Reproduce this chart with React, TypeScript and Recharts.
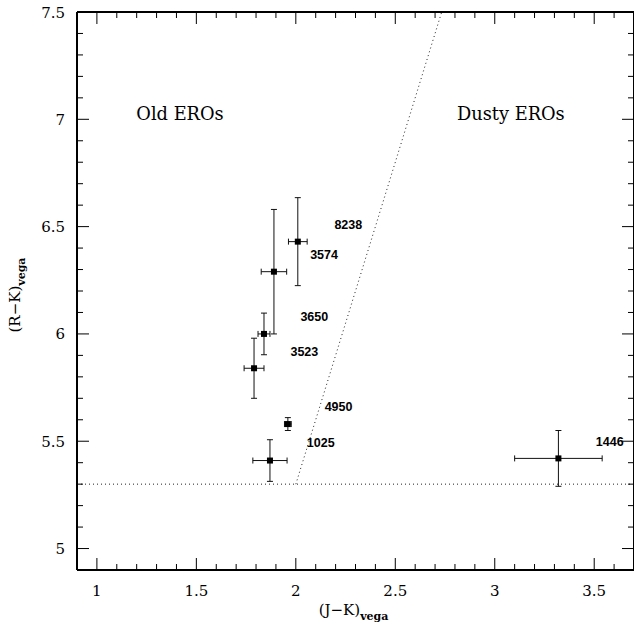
import React from 'react';
import { ScatterChart, Scatter, XAxis, YAxis, ErrorBar, ReferenceLine } from 'recharts';

// EROs: (J-K)_vega vs (R-K)_vega
const jkValues = [2.01, 1.89, 1.84, 1.79, 1.96, 1.87, 3.32];
const rkValues = [6.43, 6.29, 6.0, 5.84, 5.58, 5.41, 5.42];
const jkErrors = [0.047, 0.064, 0.03, 0.05, 0.017, 0.086, 0.22];
const rkErrors = [0.205, 0.29, 0.097, 0.14, 0.03, 0.097, 0.13];

// object id labels
const idNames = ['8238', '3574', '3650', '3523', '4950', '1025', '1446'];
const idJK = [2.264, 2.142, 2.093, 2.043, 2.215, 2.125, 3.578];
const idRK = [6.512, 6.368, 6.08, 5.92, 5.661, 5.493, 5.501];

// region labels
const regionNames = ['Old EROs', 'Dusty EROs'];
const regionJK = [1.418, 3.081];
const regionRK = [7.027, 7.027];

// separation lines
const rkCut = 5.3;
const diagJK = [2.0, 2.7333];
const diagRK = [5.3, 7.5];

const xDomain = [0.9, 3.7];
const yDomain = [4.9, 7.5];
const xTicks = [1.0, 1.1, 1.2, 1.3, 1.4, 1.5, 1.6, 1.7, 1.8, 1.9, 2.0, 2.1, 2.2, 2.3, 2.4, 2.5, 2.6, 2.7, 2.8, 2.9, 3.0, 3.1, 3.2, 3.3, 3.4, 3.5, 3.6];
const yTicks = [5.0, 5.1, 5.2, 5.3, 5.4, 5.5, 5.6, 5.7, 5.8, 5.9, 6.0, 6.1, 6.2, 6.3, 6.4, 6.5, 6.6, 6.7, 6.8, 6.9, 7.0, 7.1, 7.2, 7.3, 7.4, 7.5];

const points = jkValues.map((x, i) => ({ x, y: rkValues[i], ex: jkErrors[i], ey: rkErrors[i] }));
const idLabels = idNames.map((name, i) => ({ x: idJK[i], y: idRK[i], name }));
const regionLabels = regionNames.map((name, i) => ({ x: regionJK[i], y: regionRK[i], name }));

const SERIF = 'DejaVu Serif';
const MAJOR = 12;
const MINOR = 6;
const isMajor = (v: number) => Math.abs(v * 2 - Math.round(v * 2)) < 1e-6;
const fmt = (v: number) => String(Math.round(v * 10) / 10);

const BottomTick = (p: any) => {
  const v = p.payload.value;
  const m = isMajor(v);
  return (
    <g>
      <line x1={p.x} y1={p.y} x2={p.x} y2={p.y - (m ? MAJOR : MINOR)} stroke="#000" strokeWidth={1} />
      {m && (
        <text x={p.x} y={p.y + 26} textAnchor="middle" fontFamily={SERIF} fontSize={15} fill="#000">
          {fmt(v)}
        </text>
      )}
    </g>
  );
};

const TopTick = (p: any) => {
  const v = p.payload.value;
  const m = isMajor(v);
  return <line x1={p.x} y1={p.y} x2={p.x} y2={p.y + (m ? MAJOR : MINOR)} stroke="#000" strokeWidth={1} />;
};

const LeftTick = (p: any) => {
  const v = p.payload.value;
  const m = isMajor(v);
  return (
    <g>
      <line x1={p.x} y1={p.y} x2={p.x + (m ? MAJOR : MINOR)} y2={p.y} stroke="#000" strokeWidth={1} />
      {m && (
        <text x={p.x - 12} y={p.y + 5.5} textAnchor="end" fontFamily={SERIF} fontSize={15} fill="#000">
          {fmt(v)}
        </text>
      )}
    </g>
  );
};

const RightTick = (p: any) => {
  const v = p.payload.value;
  const m = isMajor(v);
  return <line x1={p.x} y1={p.y} x2={p.x - (m ? MAJOR : MINOR)} y2={p.y} stroke="#000" strokeWidth={1} />;
};

const XTitle = (props: any) => {
  const vb = props.viewBox;
  return (
    <text x={vb.x + vb.width / 2 - 2} y={vb.y + 45} textAnchor="middle" fontFamily={SERIF} fontSize={15} fill="#000">
      (J−K)
      <tspan fontSize={11} fontWeight="bold" dy={5}>vega</tspan>
    </text>
  );
};

const YTitle = (props: any) => {
  const vb = props.viewBox;
  const cx = 20;
  const cy = vb.y + vb.height / 2 + 4;
  return (
    <text x={cx} y={cy} transform={`rotate(-90 ${cx} ${cy})`} textAnchor="middle" fontFamily={SERIF} fontSize={15} fill="#000">
      (R−K)
      <tspan fontSize={11} fontWeight="bold" dy={5}>vega</tspan>
    </text>
  );
};

const Marker = (p: any) => <rect x={p.cx - 3} y={p.cy - 3} width={6} height={6} fill="#000" />;

const IdText = (p: any) => (
  <text x={p.cx} y={p.cy + 4.5} textAnchor="middle" fontFamily="Liberation Sans" fontWeight="bold" fontSize={12.5} fill="#000">
    {p.payload.name}
  </text>
);

const RegionText = (p: any) => (
  <text x={p.cx} y={p.cy + 6} textAnchor="middle" fontFamily={SERIF} fontSize={17.8} fill="#000">
    {p.payload.name}
  </text>
);

export default function App() {
  return (
    <div style={{ position: 'absolute', left: 0, top: 0, width: 634, height: 625, overflow: 'hidden', background: '#fff' }}>
      <ScatterChart width={640} height={625} margin={{ top: 0, right: 0, bottom: 0, left: 0 }}>
        <XAxis
          xAxisId="b"
          type="number"
          dataKey="x"
          orientation="bottom"
          domain={xDomain}
          ticks={xTicks}
          interval={0}
          height={55}
          tickSize={0}
          tickMargin={0}
          tickLine={false}
          tick={<BottomTick />}
          axisLine={{ stroke: '#000', strokeWidth: 2 }}
          allowDataOverflow
          label={{ content: <XTitle /> }}
        />
        <XAxis
          xAxisId="t"
          type="number"
          dataKey="x"
          orientation="top"
          domain={xDomain}
          ticks={xTicks}
          interval={0}
          height={12}
          tickSize={0}
          tickMargin={0}
          tickLine={false}
          tick={<TopTick />}
          axisLine={{ stroke: '#000', strokeWidth: 2 }}
          allowDataOverflow
        />
        <YAxis
          yAxisId="l"
          type="number"
          dataKey="y"
          orientation="left"
          domain={yDomain}
          ticks={yTicks}
          interval={0}
          width={77}
          tickSize={0}
          tickMargin={0}
          tickLine={false}
          tick={<LeftTick />}
          axisLine={{ stroke: '#000', strokeWidth: 2 }}
          allowDataOverflow
          label={{ content: <YTitle /> }}
        />
        <YAxis
          yAxisId="r"
          type="number"
          dataKey="y"
          orientation="right"
          domain={yDomain}
          ticks={yTicks}
          interval={0}
          width={6}
          tickSize={0}
          tickMargin={0}
          tickLine={false}
          tick={<RightTick />}
          axisLine={{ stroke: '#000', strokeWidth: 2 }}
          allowDataOverflow
        />
        <ReferenceLine
          xAxisId="b"
          yAxisId="l"
          segment={[{ x: xDomain[0], y: rkCut }, { x: xDomain[1], y: rkCut }]}
          stroke="#222"
          strokeDasharray="1 3"
          ifOverflow="visible"
        />
        <ReferenceLine
          xAxisId="b"
          yAxisId="l"
          segment={[{ x: diagJK[0], y: diagRK[0] }, { x: diagJK[1], y: diagRK[1] }]}
          stroke="#222"
          strokeDasharray="1 3"
          ifOverflow="visible"
        />
        <Scatter xAxisId="b" yAxisId="l" data={points} shape={<Marker />} isAnimationActive={false}>
          <ErrorBar dataKey="ex" direction="x" width={3} stroke="#111" strokeWidth={1} isAnimationActive={false} />
          <ErrorBar dataKey="ey" direction="y" width={3} stroke="#111" strokeWidth={1} isAnimationActive={false} />
        </Scatter>
        <Scatter xAxisId="b" yAxisId="l" data={idLabels} shape={<IdText />} isAnimationActive={false} />
        <Scatter xAxisId="t" yAxisId="r" data={regionLabels} shape={<RegionText />} isAnimationActive={false} />
      </ScatterChart>
    </div>
  );
}
